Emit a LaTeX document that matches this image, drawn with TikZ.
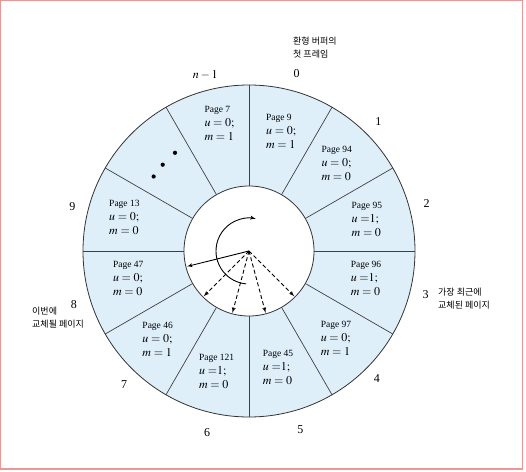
\documentclass[tikz,border=0pt]{standalone}
\usepackage{mathptmx}
\usepackage{fontspec}
\setmainfont{Liberation Serif}
\newfontfamily\krfont{Noto Sans CJK KR}
\usepackage{tikz}
\usetikzlibrary{arrows}
\definecolor{bufferblue}{RGB}{222,239,250}
\definecolor{framered}{RGB}{236,150,150}
\newcommand{\pagetag}[1]{{\fontsize{9.5}{14}\selectfont Page #1}}

\begin{document}
\begin{tikzpicture}[x=1pt,y=1pt,>=latex']
    \tikzstyle{ring} = [draw=black!80, line width=0.8pt]
    \tikzstyle{spoke} = [draw=black!75, line width=0.7pt]
    \tikzstyle{entry} = [align=left, inner sep=0pt, font=\fontsize{12}{14}\selectfont]
    \tikzstyle{slot} = [inner sep=0pt, font=\fontsize{12}{12}\selectfont]
    \tikzstyle{note} = [align=left, anchor=west, inner sep=0pt, font=\krfont\fontsize{9}{13}\selectfont]
    \tikzstyle{pointer} = [->, line width=0.9pt]
    %Frame
    \useasboundingbox (-249,-220) rectangle (277,251);
    \draw[framered, line width=1.5pt] (-248.5,-218) rectangle (273.5,250.5);
    %Creating the Ring of Frames
    \fill[bufferblue, even odd rule] (0,0) circle (166) (0,0) circle (65);
    \draw[ring] (0,0) circle (166);
    \draw[ring] (0,0) circle (65);
    \draw[spoke] (90:65) -- (90:166);
    \draw[spoke] (60:65) -- (60:166);
    \draw[spoke] (30:65) -- (30:166);
    \draw[spoke] (0:65) -- (0:166);
    \draw[spoke] (-30:65) -- (-30:166);
    \draw[spoke] (-60:65) -- (-60:166);
    \draw[spoke] (-90:65) -- (-90:166);
    \draw[spoke] (-120:65) -- (-120:166);
    \draw[spoke] (-150:65) -- (-150:166);
    \draw[spoke] (180:65) -- (180:166);
    \draw[spoke] (150:65) -- (150:166);
    \draw[spoke] (120:65) -- (120:166);
    %Frame Contents
    \node[entry] (page_9) at (75:124) {\pagetag{9}\\ $u = 0;$\\ $m = 1$};
    \node[entry] (page_94) at (45:124) {\pagetag{94}\\ $u = 0;$\\ $m = 0$};
    \node[entry] (page_95) at (15:122) {\pagetag{95}\\ $u \;{=}1;$\\ $m = 0$};
    \node[entry] (page_96) at (-13:120) {\pagetag{96}\\ $u \;{=}1;$\\ $m = 0$};
    \node[entry] (page_97) at (-45:123) {\pagetag{97}\\ $u = 0;$\\ $m = 1$};
    \node[entry] (page_45) at (-76:120) {\pagetag{45}\\ $u \;{=}1;$\\ $m = 0$};
    \node[entry] (page_121) at (-105:125) {\pagetag{121}\\ $u \;{=}1;$\\ $m = 0$};
    \node[entry] (page_46) at (-136:127) {\pagetag{46}\\ $u = 0;$\\ $m = 1$};
    \node[entry] (page_47) at (-167:124) {\pagetag{47}\\ $u = 0;$\\ $m = 0$};
    \node[entry] (page_13) at (165:129) {\pagetag{13}\\ $u = 0;$\\ $m = 0$};
    \node[entry] (page_7) at (103:131) {\pagetag{7}\\ $u = 0;$\\ $m = 1$};
    \fill (142:121) circle (2.1);
    \fill (135:122) circle (2.1);
    \fill (127:123) circle (2.1);
    %Frame Numbers
    \node[slot] (slot_0) at (75:184) {0};
    \node[slot] (slot_1) at (45:183) {1};
    \node[slot] (slot_2) at (15:184) {2};
    \node[slot] (slot_3) at (-14:182) {3};
    \node[slot] (slot_4) at (-45:181) {4};
    \node[slot] (slot_5) at (-74:186) {5};
    \node[slot] (slot_6) at (-103:186) {6};
    \node[slot] (slot_7) at (-133:183) {7};
    \node[slot] (slot_8) at (-163:183) {8};
    \node[slot] (slot_9) at (166:182) {9};
    \node[slot] (slot_n) at (104:181) {$n-1$};
    %Notes
    \node[note] (note_first) at (44,203) {환형 버퍼의\\첫 프레임};
    \node[note] (note_recent) at (189,-48) {가장 최근에\\교체된 페이지};
    \node[note] (note_next) at (-217,-67) {이번에\\교체될 페이지};
    %Pointer
    \coordinate (hand) at (0,0);
    \coordinate (next_8) at (194:64);
    \coordinate (scan_7) at (225:64);
    \coordinate (scan_6) at (255:64);
    \coordinate (scan_5) at (285:64);
    \coordinate (scan_4) at (315:64);
    \begin{scope}[line width=0.9pt]
        \draw[pointer] (hand) -- (next_8);
        \draw[pointer, dash pattern=on 4pt off 2.5pt] (hand) -- (scan_7);
        \draw[pointer, dash pattern=on 4pt off 2.5pt] (hand) -- (scan_6);
        \draw[pointer, dash pattern=on 4pt off 2.5pt] (hand) -- (scan_5);
        \draw[pointer, dash pattern=on 4pt off 2.5pt] (hand) -- (scan_4);
        \draw[pointer] (265:33) arc[start angle=265, end angle=78, radius=33];
    \end{scope}
\end{tikzpicture}
\end{document}
